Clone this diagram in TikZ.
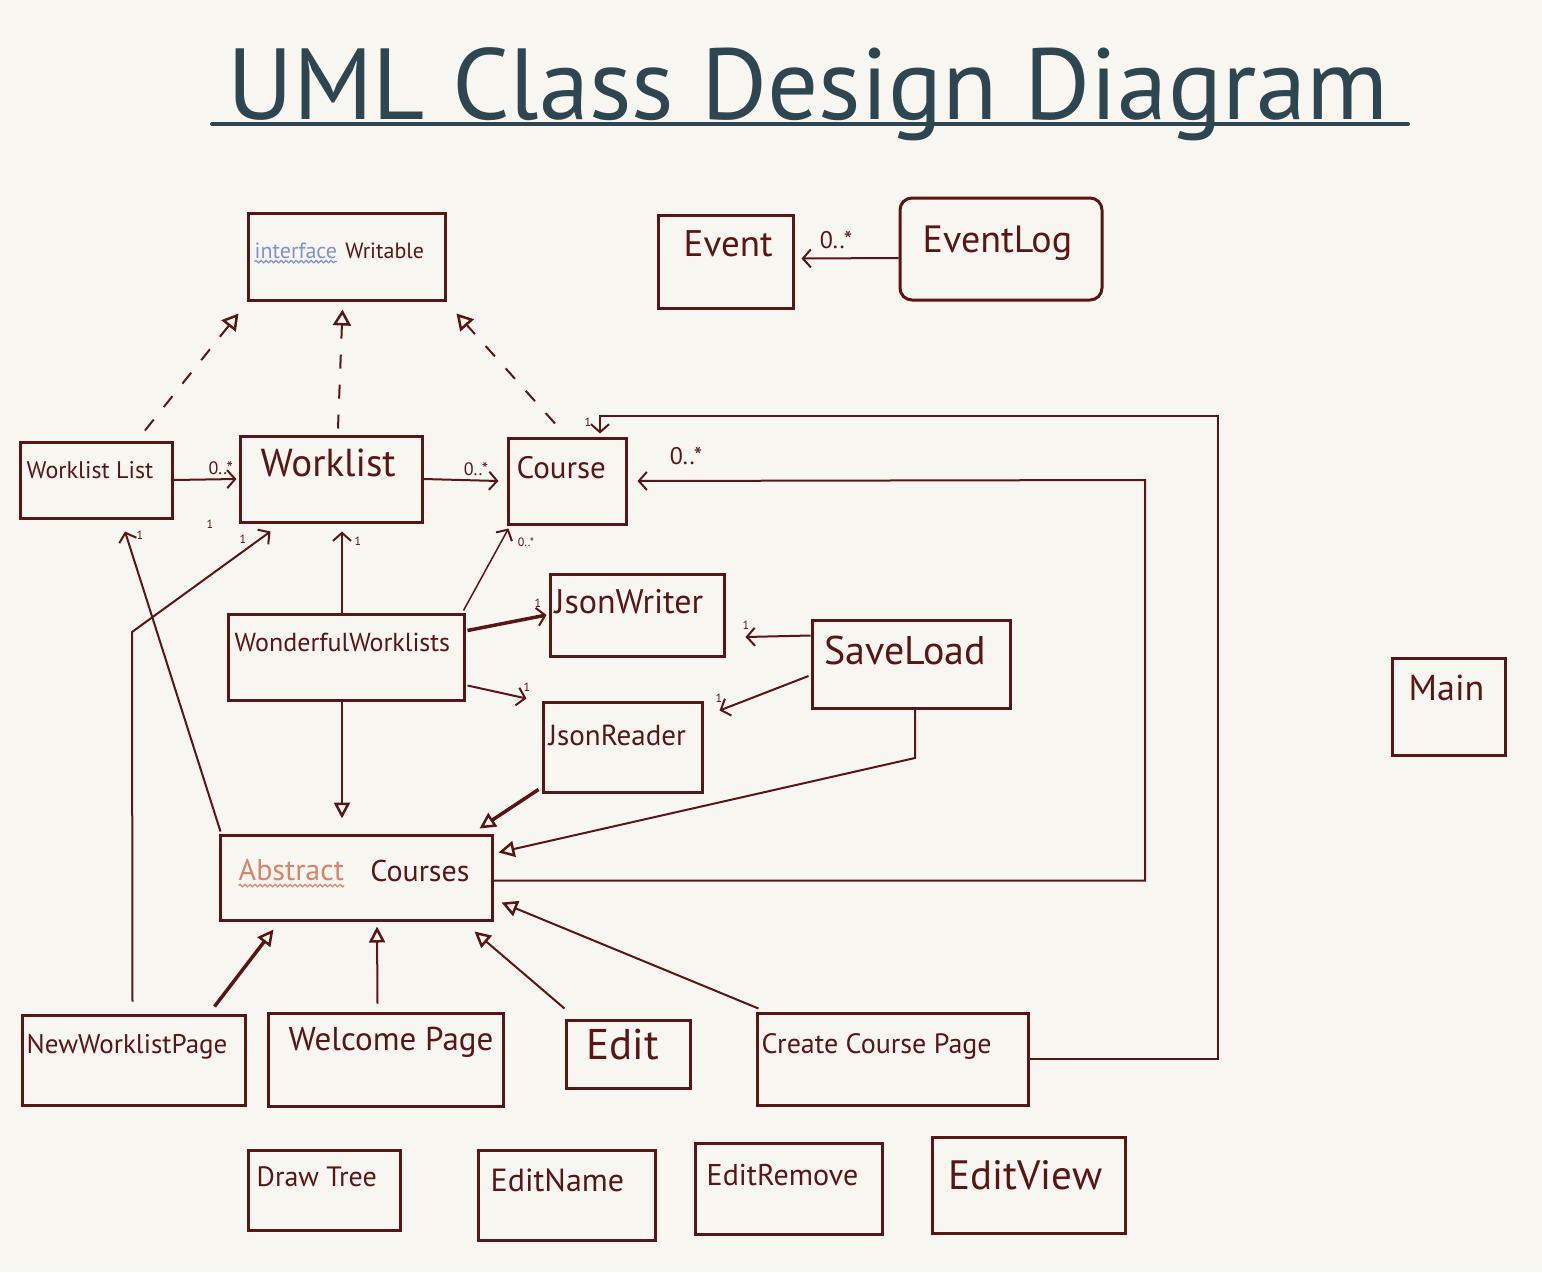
\documentclass[tikz,border=0pt]{standalone}
\usepackage{fontspec}
\setmainfont{PT Sans}
\usepackage{tikz}
\usetikzlibrary{arrows.meta, positioning, fit, decorations.pathmorphing}

\definecolor{paper}{HTML}{F8F6F1}
\definecolor{ink}{HTML}{5A1616}
\definecolor{slate}{HTML}{2E4650}
\definecolor{ifaceblue}{HTML}{7D91D6}
\definecolor{abstractred}{HTML}{D9856B}

\newcommand{\handsize}[1]{\fontsize{#1}{#1}\selectfont}

\begin{document}
\begin{tikzpicture}[
    x=1pt, y=-1pt,
    umlbox/.style={rectangle, draw=ink, line width=3pt, inner sep=0pt},
    classname/.style={text=ink, inner sep=0pt, anchor=west},
    mult/.style={text=ink, inner sep=1pt, font=\handsize{18}},
    tick/.style={text=ink, inner sep=0pt, font=\handsize{12}},
    assoc/.style={draw=ink, line width=2pt, -{Straight Barb[length=8pt, width=18pt, line width=2pt]}},
    boldassoc/.style={assoc, line width=3.5pt},
    realize/.style={draw=ink, line width=2pt, dash pattern=on 14pt off 16pt, -{Triangle[open, length=16pt, width=18pt, line width=2.5pt]}},
    inherit/.style={draw=ink, line width=2pt, -{Triangle[open, length=16pt, width=16pt, line width=2.5pt]}},
    boldinherit/.style={inherit, line width=3.5pt},
    squiggle/.style={decorate, decoration={snake, amplitude=1.2pt, segment length=5pt}, line width=1.2pt}
]

    % --- Paper ---
    \fill[paper] (0,0) rectangle (1542,1272);
    \useasboundingbox (0,0) rectangle (1542,1272);

    % --- Title ---
    \node[text=slate, inner sep=0pt, anchor=base, font=\handsize{101}] (title) at (808,119) {UML Class Design Diagram};
    \draw[slate, line width=4pt, line cap=round] (212,124) -- (1408,124);

    % --- Classes ---
    \node[umlbox, fit={(248,213) (445,300)}] (writable) {};
    \node[umlbox, fit={(658,215) (793,308)}] (event) {};
    \node[umlbox, rounded corners=12pt, fit={(900,198) (1102,300)}] (eventlog) {};
    \node[umlbox, fit={(20,442) (172,518)}] (wlist) {};
    \node[umlbox, fit={(240,436) (422,522)}] (worklist) {};
    \node[umlbox, fit={(508,438) (626,524)}] (course) {};
    \node[umlbox, fit={(228,614) (464,700)}] (wonderful) {};
    \node[umlbox, fit={(550,574) (724,656)}] (jsonwriter) {};
    \node[umlbox, fit={(812,620) (1010,708)}] (saveload) {};
    \node[umlbox, fit={(543,702) (702,792)}] (jsonreader) {};
    \node[umlbox, fit={(220,835) (492,920)}] (abscourses) {};
    \node[umlbox, fit={(1392,658) (1505,755)}] (main) {};
    \node[umlbox, fit={(22,1015) (245,1105)}] (newwl) {};
    \node[umlbox, fit={(268,1013) (503,1106)}] (welcome) {};
    \node[umlbox, fit={(566,1020) (690,1088)}] (edit) {};
    \node[umlbox, fit={(757,1013) (1028,1105)}] (createcourse) {};
    \node[umlbox, fit={(248,1150) (400,1230)}] (drawtree) {};
    \node[umlbox, fit={(478,1150) (655,1240)}] (editname) {};
    \node[umlbox, fit={(695,1143) (882,1234)}] (editremove) {};
    \node[umlbox, fit={(932,1137) (1125,1233)}] (editview) {};

    % --- Class names ---
    \node[classname, text=ifaceblue, font=\handsize{22}, right=8pt of writable.west, yshift=6pt] (writable-iface) {interface};
    \node[classname, font=\handsize{22}, right=8pt of writable-iface] (writable-name) {Writable};
    \draw[ifaceblue, squiggle] ([yshift=-3pt]writable-iface.south west) -- ([yshift=-3pt]writable-iface.south east);
    \node[classname, font=\handsize{37}, right=27pt of event.west, yshift=18pt] (event-name) {Event};
    \node[classname, font=\handsize{38}, right=24pt of eventlog.west, yshift=6pt] (eventlog-name) {EventLog};
    \node[classname, font=\handsize{24}, right=8pt of wlist.west, yshift=10pt] (wlist-name) {Worklist List};
    \node[classname, font=\handsize{39}, right=22pt of worklist.west, yshift=16pt] (worklist-name) {Worklist};
    \node[classname, font=\handsize{31}, right=10pt of course.west, yshift=13pt] (course-name) {Course};
    \node[classname, font=\handsize{26}, right=8pt of wonderful.west, yshift=15pt] (wonderful-name) {WonderfulWorklists};
    \node[classname, font=\handsize{34}, right=6pt of jsonwriter.west, yshift=13pt] (jsonwriter-name) {JsonWriter};
    \node[classname, font=\handsize{40}, right=14pt of saveload.west, yshift=14pt] (saveload-name) {SaveLoad};
    \node[classname, font=\handsize{29}, right=7pt of jsonreader.west, yshift=12pt] (jsonreader-name) {JsonReader};
    \node[classname, text=abstractred, font=\handsize{30}, right=20pt of abscourses.west, yshift=7pt] (abscourses-abstract) {Abstract};
    \node[classname, font=\handsize{30}, right=26pt of abscourses-abstract] (abscourses-name) {Courses};
    \draw[abstractred, squiggle] ([yshift=-4pt]abscourses-abstract.south west) -- ([yshift=-4pt]abscourses-abstract.south east);
    \node[classname, font=\handsize{36}, right=18pt of main.west, yshift=19pt] (main-name) {Main};
    \node[classname, font=\handsize{27}, right=6pt of newwl.west, yshift=13pt] (newwl-name) {NewWorklistPage};
    \node[classname, font=\handsize{33}, right=22pt of welcome.west, yshift=17pt] (welcome-name) {Welcome Page};
    \node[classname, font=\handsize{43}, right=22pt of edit.west, yshift=9pt] (edit-name) {Edit};
    \node[classname, font=\handsize{28}, right=6pt of createcourse.west, yshift=13pt] (createcourse-name) {Create Course Page};
    \node[classname, font=\handsize{28}, right=10pt of drawtree.west, yshift=13pt] (drawtree-name) {Draw Tree};
    \node[classname, font=\handsize{32}, right=14pt of editname.west, yshift=15pt] (editname-name) {EditName};
    \node[classname, font=\handsize{30}, right=13pt of editremove.west, yshift=13pt] (editremove-name) {EditRemove};
    \node[classname, font=\handsize{41}, right=18pt of editview.west, yshift=10pt] (editview-name) {EditView};

    % --- Bend points ---
    \coordinate (course-loop) at (1145,480);
    \coordinate (create-loop) at (1218,416);
    \coordinate (saveload-bend) at (915,758);
    \coordinate (newwl-bend) at (132,632);

    % --- Realization (Writable) ---
    \path[realize] ([shift={(49,-10)}]wlist.north) -- ([shift={(-8,12)}]writable.south west);
    \path[realize] ([shift={(7,-6)}]worklist.north) -- ([shift={(-4,8)}]writable.south);
    \path[realize] ([shift={(-12,-13)}]course.north) -- ([shift={(10,12)}]writable.south east);

    % --- Associations ---
    \path[assoc] (wlist.east) -- node[mult, pos=0.75, above=3pt] (wlist-mult) {0..*} ([xshift=-2]worklist.west);
    \path[assoc] (worklist.east) -- node[mult, pos=0.7, above=3pt] (worklist-mult) {0..*} ([xshift=-8]course.west);
    \path[assoc, shorten >=10pt] ([yshift=-3]abscourses.east) -| (course-loop) -- (course.east);
    \node[mult, font=\handsize{24}] (course-loop-mult) at (686,456) {0..*};
    \path[assoc, shorten >=3pt] (createcourse.east) -| (create-loop) -| ([xshift=33]course.north);
    \node[tick] (create-loop-tick) at (588,422) {1};
    \path[assoc, line width=1.5pt] ([shift={(-2,-2)}]wonderful.north east) -- ([shift={(2,3)}]course.south west);
    \node[mult, font=\handsize{12}] (wonderful-course-mult) at (526,542) {0..*};
    \path[assoc] ([xshift=-4]wonderful.north) -- ([shift={(11,8)}]worklist.south);
    \node[tick] (wonderful-worklist-tick) at (358,541) {1};
    \path[boldassoc] ([shift={(2,18)}]wonderful.north east) -- ([xshift=-2]jsonwriter.west);
    \node[tick] (jsonwriter-tick) at (538,603) {1};
    \path[assoc] ([shift={(2,-16)}]wonderful.south east) -- ([shift={(-15,-2)}]jsonreader.north west);
    \node[tick] (jsonreader-tick) at (527,687) {1};
    \path[assoc] ([shift={(0,17)}]saveload.north west) -- ([shift={(20,22)}]jsonwriter.east);
    \node[tick] (saveload-writer-tick) at (746,625) {1};
    \path[assoc] ([shift={(-2,12)}]saveload.west) -- ([shift={(16,10)}]jsonreader.north east);
    \node[tick] (saveload-reader-tick) at (719,698) {1};
    \path[assoc] ([shift={(2,-2)}]abscourses.north west) -- ([shift={(29,12)}]wlist.south);
    \node[tick] (abscourses-wlist-tick) at (140,535) {1};
    \node[tick] (wlist-worklist-tick) at (210,524) {1};
    \path[assoc] ([shift={(-1,-12)}]newwl.north) -- (newwl-bend) -- ([shift={(32,8)}]worklist.south west);
    \node[tick] (newwl-worklist-tick) at (243,539) {1};
    \path[assoc] ([shift={(0,9)}]eventlog.west) -- ([shift={(7,-3)}]event.east);
    \node[mult, font=\handsize{24}] (eventlog-mult) at (836,240) {0..*};

    % --- Generalization (Abstract Courses) ---
    \path[inherit] ([xshift=-4]wonderful.south) -- ([shift={(-14,-15)}]abscourses.north);
    \path[boldinherit] ([shift={(-3,-4)}]jsonreader.south west) -- ([shift={(-14,-5)}]abscourses.north east);
    \path[inherit] ([xshift=4]saveload.south) |- (saveload-bend) -- ([shift={(5,-25)}]abscourses.east);
    \path[boldinherit] ([shift={(-32,-7)}]newwl.north east) -- ([shift={(55,8)}]abscourses.south west);
    \path[inherit] ([shift={(-8,-8)}]welcome.north) -- ([shift={(21,5)}]abscourses.south);
    \path[inherit] ([shift={(0,-10)}]edit.north west) -- ([shift={(-19,10)}]abscourses.south east);
    \path[inherit] ([shift={(3,-3)}]createcourse.north west) -- ([shift={(8,25)}]abscourses.east);

\end{tikzpicture}
\end{document}
